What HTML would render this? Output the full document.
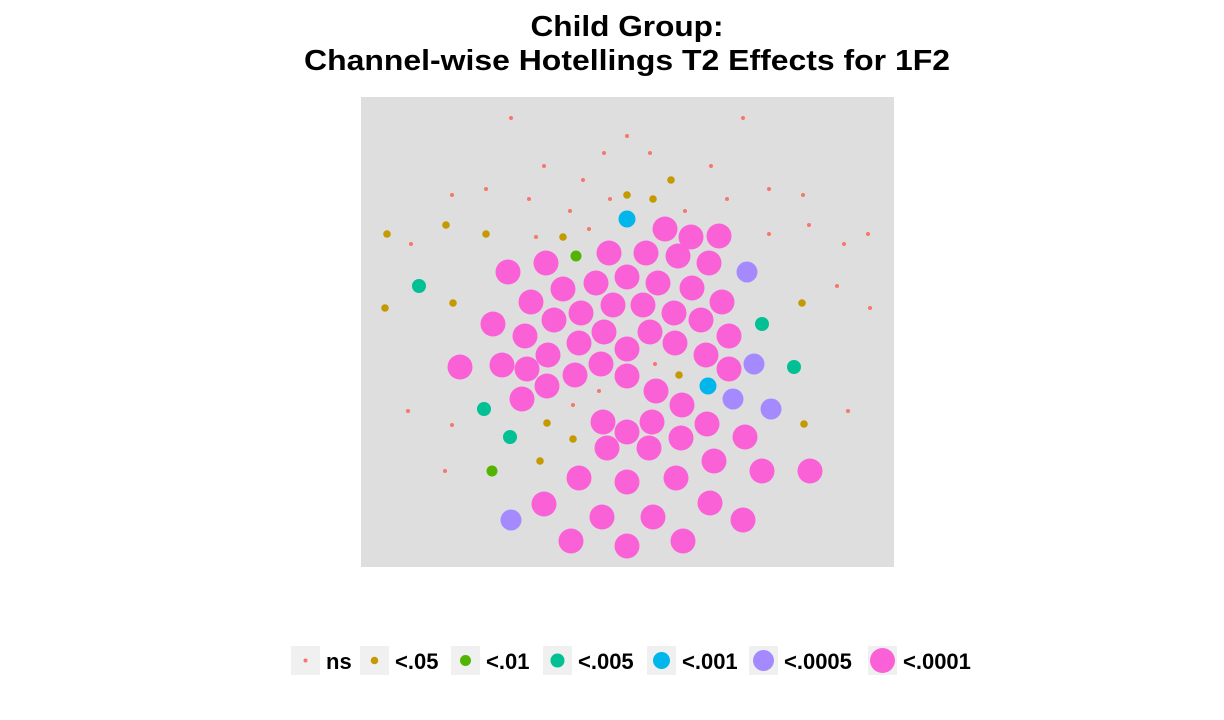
<!DOCTYPE html>
<html><head><meta charset="utf-8">
<style>
body{margin:0;background:#fff;font-family:"Liberation Sans",sans-serif}
svg{display:block}
</style></head>
<body>
<svg id="chart" width="1224" height="720">
<text x="627" y="36" text-anchor="middle" font-size="29" font-weight="bold" textLength="193" lengthAdjust="spacingAndGlyphs">Child Group:</text>
<text x="627" y="70" text-anchor="middle" font-size="29" font-weight="bold" textLength="646" lengthAdjust="spacingAndGlyphs">Channel-wise Hotellings T2 Effects for 1F2</text>
<rect x="361" y="97" width="533" height="470" fill="#dedede"/>
<g id="points"></g>
<g id="legend"></g>
</svg>
<script>
const categories = ["ns","<.05","<.01","<.005","<.001","<.0005","<.0001"];
const colors = ["#F8766D","#C49A00","#53B400","#00C094","#00B6EB","#A58AFF","#FB61D7"];
const radii = [2,3.8,5.5,7,8.5,10.5,12.5];
// data coordinates: x in [0,533], y in [0,470] (panel-relative)
const nsX=[150,382,266,243,289,183,350,222,91,125,168,408,442,366,324,209,249,448,50,175,228,408,483,507,476,509,294,238,212,47,91,487,84];
const nsY=[21,21,39,56,56,69,69,83,98,92,102,92,98,102,114,114,102,128,147,140,132,137,147,137,189,211,267,294,308,314,328,314,374];
const p05X=[266,310,292,85,26,125,202,24,92,441,318,186,212,443,179];
const p05Y=[98,83,102,128,137,137,140,211,206,206,278,326,342,327,364];
const p01X=[215,131];
const p01Y=[159,374];
const p005X=[58,401,433,123,149];
const p005Y=[189,227,270,312,340];
const p001X=[266,347];
const p001Y=[122,289];
const p0005X=[386,393,372,410,150];
const p0005Y=[175,267,302,312,423];
const p0001X=[304,330,358,248,285,317,348,147,185,266,235,202,297,331,170,252,282,220,313,361,193,340,132,164,243,289,368,218,266,314,99,141,187,240,345,166,214,266,368,186,295,161,321,242,291,346,266,246,288,320,384,353,218,266,315,401,449,183,349,241,292,382,210,266,322];
const p0001Y=[132,140,139,156,156,159,166,175,166,180,186,192,186,191,205,208,208,216,216,205,223,223,227,239,235,235,239,246,252,246,270,268,258,267,258,272,278,279,272,289,294,302,308,325,325,327,335,351,351,341,340,364,381,385,381,374,374,407,406,420,420,423,444,449,444];
const seriesX=[nsX,p05X,p01X,p005X,p001X,p0005X,p0001X];
const seriesY=[nsY,p05Y,p01Y,p005Y,p001Y,p0005Y,p0001Y];
const NS="http://www.w3.org/2000/svg";
const px0=361, py0=97, pw=533, ph=470;
const xScale=v=>px0+v/533*pw;
const yScale=v=>py0+v/470*ph;
const g=document.getElementById('points');
seriesX.forEach((xs,s)=>{
  xs.forEach((xv,i)=>{
    const c=document.createElementNS(NS,'circle');
    c.setAttribute('cx',xScale(xv));
    c.setAttribute('cy',yScale(seriesY[s][i]));
    c.setAttribute('r',radii[s]);
    c.setAttribute('fill',colors[s]);
    
    
    g.appendChild(c);
  });
});
const legendX=[291,360,451,543,647,749,868];
const lg=document.getElementById('legend');
categories.forEach((cat,i)=>{
  const r=document.createElementNS(NS,'rect');
  r.setAttribute('x',legendX[i]);r.setAttribute('y',646);
  r.setAttribute('width',29);r.setAttribute('height',29);
  r.setAttribute('fill','#f0f0f0');
  
  
  lg.appendChild(r);
  const c=document.createElementNS(NS,'circle');
  c.setAttribute('cx',legendX[i]+14.5);c.setAttribute('cy',660.5);
  c.setAttribute('r',radii[i]);c.setAttribute('fill',colors[i]);
  
  
  lg.appendChild(c);
  const t=document.createElementNS(NS,'text');
  t.setAttribute('x',legendX[i]+35);t.setAttribute('y',669);
  t.setAttribute('font-size','22');t.setAttribute('font-weight','bold');
  t.textContent=cat;
  
  
  lg.appendChild(t);
});
</script>
</body></html>
